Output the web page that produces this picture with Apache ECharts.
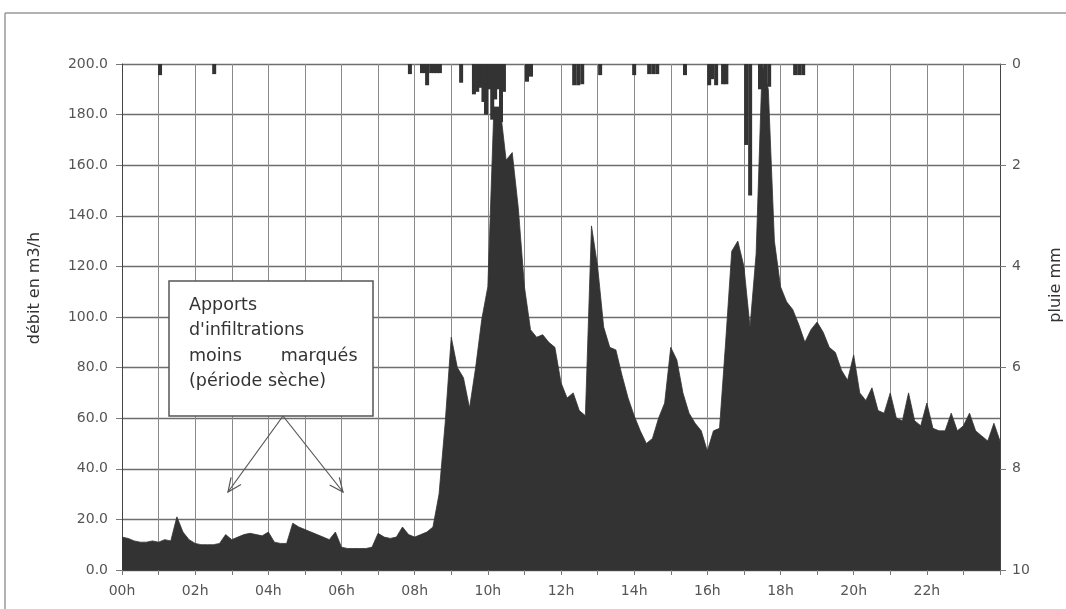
<!DOCTYPE html>
<html><head><meta charset="utf-8">
<script src="https://cdn.jsdelivr.net/npm/echarts@6/dist/echarts.min.js"></script>
<style>html,body{margin:0;padding:0;background:#fff}#c{width:1066px;height:609px}</style>
</head><body><div id="c"></div>
<script>
// Flow (m3/h), one value every 10 minutes from 00h to 24h
var flowStepMinutes = 10;
var flow = [
 13,12.5,11.5,11,11,11.5, 11,12,11.5,21,15,12,
 10.5,10,10,10,10.5,14, 12,13,14,14.5,14,13.5,
 15,11,10.5,10.5,18.5,17, 16,15,14,13,12,15,
 9,8.5,8.5,8.5,8.5,9, 14.5,13,12.5,13,17,14,
 13,14,15,17,30,58, 92,80,76,64,80,99,
 112,183,183,162,165,143, 112,95,92,93,90,88,
 74,68,70,63,61,136, 120,96,88,87,77,68,
 61,55,50,52,60,66, 88,83,70,62,58,55,
 47,55,56,90,126,130, 120,96,125,200,190,130,
 112,106,103,97,90,95, 98,94,88,86,79,75,
 85,70,67,72,63,62, 70,60,59,70,59,57,
 66,56,55,55,62,55, 57,62,55,53,51,58,
 51
];
// Rain (mm): time in hours and depth
var rainHour = [1.04,2.52,7.87,8.2,8.27,8.34,8.45,8.53,8.61,8.69,9.27,
  9.62,9.71,9.79,9.88,9.95,10.04,10.12,10.2,10.28,10.36,10.44,
  11.07,11.18,12.36,12.47,12.58,13.07,14.0,14.41,14.52,14.63,15.39,16.05,16.13,16.24,16.43,16.52,
  17.06,17.17,17.44,17.58,17.69,18.4,18.51,18.62];
var rainMm = [0.22,0.2,0.2,0.18,0.18,0.42,0.18,0.18,0.18,0.18,0.37,
  0.6,0.55,0.47,0.75,1.0,0.5,1.1,0.7,0.5,1.15,0.55,
  0.35,0.25,0.42,0.42,0.4,0.22,0.22,0.2,0.2,0.2,0.22,0.42,0.3,0.42,0.4,0.4,
  1.6,2.6,0.5,0.5,0.45,0.22,0.22,0.22];
var flowTicks = [0,200,20];
var rainTicks = [0,10,2];
var hourLabels = ['00h','02h','04h','06h','08h','10h','12h','14h','16h','18h','20h','22h'];
var flowAxisName = 'débit en m3/h';
var rainAxisName = 'pluie mm';
var noteLines = ['Apports', "d'infiltrations", 'moins       marqués', '(période sèche)'];

var flowData = flow.map(function(v,i){return [i*flowStepMinutes/60, v];});
var rainData = rainHour.map(function(h,i){return [h, rainMm[i]];});

var FONT = '"DejaVu Sans", Verdana, sans-serif';
function arrow(x1,y1,x2,y2){
  var dx=x1-x2, dy=y1-y2, L=Math.sqrt(dx*dx+dy*dy), ux=dx/L, uy=dy/L, a=0.42, len=15;
  function rot(t){return [x2+len*(ux*Math.cos(t)-uy*Math.sin(t)), y2+len*(ux*Math.sin(t)+uy*Math.cos(t))];}
  var st={stroke:'#555',lineWidth:1.2,fill:null};
  return [
    {type:'line',shape:{x1:x1,y1:y1,x2:x2,y2:y2},style:st,z:100},
    {type:'polyline',shape:{points:[rot(a),[x2,y2],rot(-a)]},style:st,z:100}
  ];
}

var chart = echarts.init(document.getElementById('c'));
var txtColor = '#555';
var graphics = [
  {type:'line',shape:{x1:5,y1:13,x2:1066,y2:13},style:{stroke:'#999',lineWidth:1.5},z:100},
  {type:'line',shape:{x1:5,y1:13,x2:5,y2:609},style:{stroke:'#999',lineWidth:1.5},z:100},
  {type:'rect',shape:{x:169,y:281,width:204,height:135},style:{fill:'#fff',stroke:'#555',lineWidth:1.5},z:100},
  {type:'text',x:35,y:288,rotation:Math.PI/2,style:{text:flowAxisName,fill:'#333',font:'16px '+FONT,align:'center',verticalAlign:'middle'},z:100},
  {type:'text',x:1056,y:285,rotation:Math.PI/2,style:{text:rainAxisName,fill:'#333',font:'16px '+FONT,align:'center',verticalAlign:'middle'},z:100}
];
noteLines.forEach(function(t,i){
  graphics.push({type:'text',x:189,y:296+i*25.5,style:{text:t,fill:'#333',font:'17.5px '+FONT},z:101});
});
graphics = graphics.concat(arrow(283,416,228,492)).concat(arrow(283,416,343,492));

chart.setOption({
  animation:false,
  backgroundColor:'#fff',
  grid:{left:122,right:66,top:64,bottom:39,containLabel:false},
  xAxis:{type:'value',min:0,max:24,interval:1,
    axisLine:{lineStyle:{color:'#444',width:1}},
    axisTick:{show:true,length:5,lineStyle:{color:'#777'}},
    splitLine:{show:true,lineStyle:{color:'#8a8a8a',width:1}},
    axisLabel:{color:txtColor,fontSize:14,fontFamily:FONT,margin:14,
      formatter:function(v){return (v%2===0 && v<24)? hourLabels[v/2] : '';}}
  },
  yAxis:[
    {type:'value',min:flowTicks[0],max:flowTicks[1],interval:flowTicks[2],
     axisLine:{show:true,lineStyle:{color:'#444'}},
     axisTick:{show:true,length:6,lineStyle:{color:'#777'}},
     splitLine:{show:true,lineStyle:{color:'#6e6e6e',width:1.3}},
     axisLabel:{color:txtColor,fontSize:14,fontFamily:FONT,margin:14,
       formatter:function(v){return v.toFixed(1);}}
    },
    {type:'value',min:rainTicks[0],max:rainTicks[1],interval:rainTicks[2],inverse:true,position:'right',
     axisLine:{show:true,lineStyle:{color:'#444'}},
     axisTick:{show:true,length:6,lineStyle:{color:'#777'}},
     splitLine:{show:false},
     axisLabel:{color:txtColor,fontSize:14,fontFamily:FONT,margin:12}
    }
  ],
  series:[
    {type:'line',data:flowData,yAxisIndex:0,showSymbol:false,symbol:'none',
     lineStyle:{color:'#333',width:0.8},areaStyle:{color:'#333',opacity:1},z:3},
    {type:'bar',data:rainData,yAxisIndex:1,barWidth:4,itemStyle:{color:'#333'},z:4}
  ],
  graphic:graphics
});
</script></body></html>
